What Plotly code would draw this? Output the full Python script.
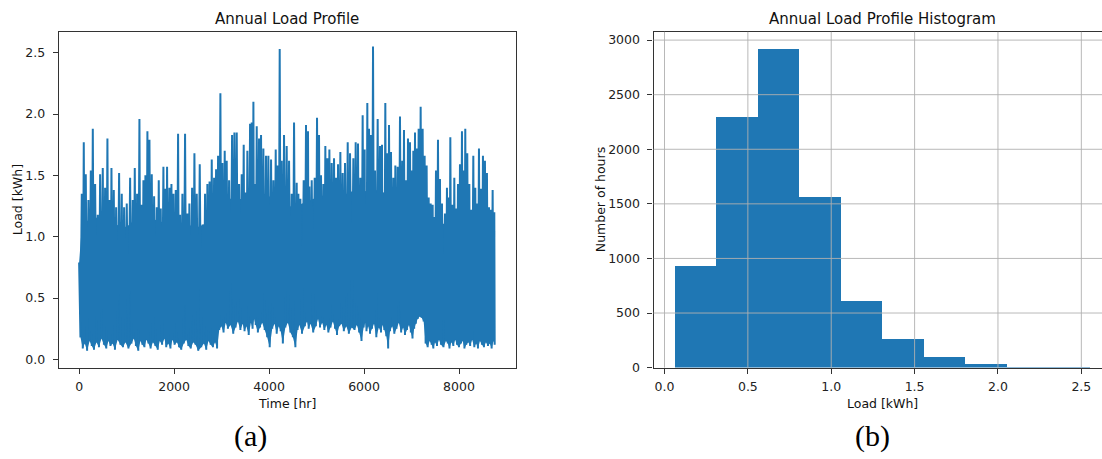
import plotly.graph_objects as go

# ---------------- data: annual load profile (envelope) ----------------
peak_hours = [
    0, 56, 98, 140, 196, 246, 288, 337, 393, 442, 498, 547, 596, 639, 681, 730, 779, 842, 898, 947,
    1003, 1074, 1130, 1172, 1221, 1270, 1312, 1354, 1396, 1438, 1481, 1530, 1579, 1635, 1677, 1719,
    1775, 1817, 1852, 1902, 1944, 1986, 2035, 2084, 2126, 2175, 2231, 2280, 2322, 2379, 2428, 2477,
    2540, 2603, 2652, 2701, 2747,
    2793, 2842, 2884, 2926, 2975, 3017, 3066, 3108, 3158, 3221, 3270, 3319, 3368, 3424, 3466, 3501,
    3543, 3600, 3635, 3670, 3698, 3740, 3789, 3831, 3880, 3936, 3985, 4042, 4091, 4140, 4182, 4224,
    4266, 4315, 4371, 4421, 4477, 4526, 4582, 4617, 4659, 4729, 4778, 4820, 4849, 4898, 4961, 5010,
    5052, 5094, 5143, 5185, 5227, 5270, 5319, 5368, 5410, 5452, 5501, 5550, 5599, 5656, 5705,
    5775, 5824, 5873, 5922, 5971, 6013, 6034, 6069, 6105, 6147, 6189, 6231, 6287, 6336, 6378, 6406,
    6448, 6490, 6526, 6568, 6617, 6659, 6708, 6757, 6806, 6841, 6883, 6925, 6968, 7003, 7038, 7073,
    7108, 7150, 7192, 7234, 7276, 7318, 7361, 7403, 7445, 7473, 7515, 7557, 7599, 7641, 7704, 7746,
    7782, 7817, 7859, 7901, 7936, 7978, 8020, 8062, 8097, 8132, 8174, 8217, 8252, 8301, 8343, 8378,
    8420, 8462, 8504, 8546, 8588, 8631, 8666, 8708, 8743,
]
peak_load = [
    0.79, 1.35, 1.77, 1.51, 1.30, 1.54, 1.88, 1.43, 1.18, 1.51, 1.56, 1.40, 1.80, 1.30, 1.56, 1.38,
    1.24, 1.52, 1.35, 1.24, 1.27, 1.48, 1.30, 1.56, 1.35, 1.96, 1.26, 1.46, 1.50, 1.86, 1.79, 1.51,
    1.33, 1.24, 1.46, 1.23, 1.57, 1.39, 1.57, 1.40, 1.43, 1.35, 1.38, 1.84, 1.18, 1.35, 1.84, 1.19,
    1.27, 1.40, 1.68, 1.35, 1.59, 1.10, 1.35, 1.43, 1.45,
    1.63, 1.48, 1.55, 1.66, 2.17, 1.60, 1.70, 1.62, 1.46, 1.83, 1.85, 1.85, 1.43, 1.51, 1.75, 1.36,
    1.70, 1.92, 1.93, 2.10, 1.43, 1.90, 1.80, 1.83, 1.72, 1.66, 1.66, 1.63, 1.46, 1.71, 1.58, 2.53,
    1.62, 1.83, 1.74, 1.62, 1.35, 1.93, 1.44, 1.35, 1.31, 1.46, 1.91, 1.86, 1.41, 1.46, 1.48, 1.97,
    1.83, 1.50, 1.43, 1.74, 1.64, 1.71, 1.60, 1.64, 1.48, 1.59, 1.69, 1.52, 1.60, 1.77, 1.68,
    1.64, 1.77, 1.76, 1.48, 1.99, 1.71, 1.27, 2.09, 1.88, 1.83, 2.55, 1.54, 1.96, 1.74, 1.75, 1.32,
    2.09, 1.68, 1.91, 1.69, 1.48, 1.58, 1.57, 1.98, 1.62, 1.87, 1.46, 1.80, 1.77, 1.54, 1.70, 1.85,
    1.72, 1.88, 2.06, 1.88, 1.66, 1.58, 1.32, 1.27, 1.26, 1.16, 1.54, 1.79, 1.47, 1.27, 1.19, 1.40,
    1.32, 1.81, 1.26, 1.48, 1.23, 1.43, 1.59, 1.86, 1.54, 1.88, 1.68, 1.43, 1.22, 1.66, 1.40, 1.27,
    1.72, 1.39, 1.66, 1.62, 1.52, 1.24, 1.22, 1.38, 1.20,
]
trough_load = [
    0.18, 0.09, 0.13, 0.07, 0.15, 0.11, 0.08, 0.14, 0.10, 0.17, 0.12, 0.09, 0.15, 0.11, 0.13, 0.08,
    0.16, 0.12, 0.10, 0.14, 0.09, 0.13, 0.17, 0.11, 0.07, 0.15, 0.12, 0.10, 0.16, 0.13, 0.09, 0.14,
    0.11, 0.08, 0.15, 0.12, 0.17, 0.10, 0.13, 0.09, 0.16, 0.12, 0.14, 0.10, 0.08, 0.13, 0.16, 0.11,
    0.09, 0.14, 0.12, 0.07, 0.10, 0.13, 0.08, 0.15, 0.12,
    0.10, 0.14, 0.09, 0.24, 0.27, 0.22, 0.30, 0.25, 0.28, 0.21, 0.26, 0.31, 0.24, 0.29, 0.23, 0.27,
    0.20, 0.30, 0.25, 0.33, 0.28, 0.22, 0.26, 0.30, 0.24, 0.18, 0.10, 0.25, 0.29, 0.21, 0.27, 0.23,
    0.13, 0.26, 0.30, 0.22, 0.18, 0.10, 0.24, 0.28, 0.21, 0.27, 0.31, 0.25, 0.29, 0.22, 0.27, 0.33,
    0.26, 0.30, 0.24, 0.28, 0.22, 0.26, 0.31, 0.25, 0.20, 0.27, 0.29, 0.23, 0.27, 0.21, 0.26,
    0.24, 0.28, 0.22, 0.15, 0.26, 0.30, 0.23, 0.27, 0.21, 0.25, 0.29, 0.18, 0.26, 0.22, 0.28, 0.24,
    0.19, 0.09, 0.23, 0.27, 0.21, 0.25, 0.30, 0.22, 0.26, 0.20, 0.24, 0.28, 0.22, 0.17, 0.25, 0.29,
    0.33, 0.35, 0.34, 0.31, 0.13, 0.10, 0.15, 0.12, 0.09, 0.14, 0.11, 0.16, 0.12, 0.10, 0.15, 0.13,
    0.09, 0.14, 0.11, 0.16, 0.12, 0.10, 0.13, 0.15, 0.09, 0.12, 0.14, 0.11, 0.16, 0.10, 0.13, 0.09,
    0.15, 0.12, 0.10, 0.14, 0.11, 0.13, 0.09, 0.15, 0.12,
]
last_hour = 8759

# level up to which the dense hourly band looks solid
body_hours = [0, 60, 250, 500, 750, 1000, 1250, 1500, 1750, 2000, 2250, 2500, 2750, 2930, 3000,
              3250, 3500, 3750, 4000, 4250, 4500, 4750, 5000, 5250, 5500, 5750, 6000, 6250, 6500,
              6750, 7000, 7250, 7300, 7500, 7750, 8000, 8250, 8500, 8759]
body_top = [0.79, 1.10, 1.15, 1.16, 1.10, 1.08, 1.17, 1.15, 1.12, 1.14, 1.10, 1.08, 1.12, 1.18, 1.28,
            1.32, 1.30, 1.38, 1.33, 1.28, 1.24, 1.28, 1.32, 1.35, 1.33, 1.37, 1.37, 1.38, 1.35,
            1.33, 1.37, 1.35, 1.18, 1.12, 1.10, 1.15, 1.12, 1.12, 1.05]

# ---------------- data: histogram ----------------
hist_edges = [0.058, 0.307, 0.556, 0.805, 1.054, 1.303, 1.552, 1.801, 2.050, 2.299, 2.548]
hist_counts = [930, 2300, 2920, 1562, 612, 264, 103, 33, 4, 2]

xa_ticks = [0, 2000, 4000, 6000, 8000]
ya_ticks = [0.0, 0.5, 1.0, 1.5, 2.0, 2.5]
xb_ticks = [0.0, 0.5, 1.0, 1.5, 2.0, 2.5]
yb_ticks = [0, 500, 1000, 1500, 2000, 2500, 3000]

titles = ["Annual Load Profile", "Annual Load Profile Histogram"]
xlabels = ["Time [hr]", "Load [kWh]"]
ylabels = ["Load [kWh]", "Number of hours"]
captions = ["(a)", "(b)"]

# ---------------- build ----------------
W, H = 1102, 459
BLUE = "#1f77b4"
SPINE = "#333333"
FONT = "DejaVu Sans"


def fx(px):
    return px / W


def fy(py):
    return 1 - py / H


hours, load = [], []
trough_hours = []
for i, (t, p) in enumerate(zip(peak_hours, peak_load)):
    nxt = peak_hours[i + 1] if i + 1 < len(peak_hours) else last_hour
    mid = (t + nxt) / 2
    trough_hours.append(mid)
    hours += [t, mid]
    load += [p, trough_load[i]]

centers = [(a + b) / 2 for a, b in zip(hist_edges[:-1], hist_edges[1:])]
widths = [b - a for a, b in zip(hist_edges[:-1], hist_edges[1:])]

fig = go.Figure()
# solid core of the dense hourly band
fig.add_trace(go.Scatter(x=[0] + trough_hours + body_hours[::-1],
                         y=[peak_load[0]] + trough_load + body_top[::-1],
                         mode="none", fill="toself", fillcolor=BLUE,
                         xaxis="x", yaxis="y", showlegend=False, hoverinfo="skip"))
# hourly peaks / troughs
fig.add_trace(go.Scatter(x=hours, y=load, mode="lines", line=dict(color=BLUE, width=2),
                         xaxis="x", yaxis="y", showlegend=False, hoverinfo="skip"))
fig.add_trace(go.Bar(x=centers, y=hist_counts, width=widths, marker=dict(color=BLUE, line=dict(width=0)),
                     xaxis="x2", yaxis="y2", showlegend=False))

ydom = [fy(373.3), fy(32.3)]
axis_common = dict(showline=True, linecolor=SPINE, linewidth=1.1, ticks="outside", ticklen=5,
                   tickwidth=1.1, tickcolor=SPINE, tickfont=dict(family=FONT, size=12.5, color="#222"),
                   zeroline=False)

fig.update_layout(
    width=W, height=H, margin=dict(l=0, r=0, t=0, b=0),
    paper_bgcolor="white", plot_bgcolor="white", bargap=0,
    xaxis=dict(domain=[fx(58.7), fx(516)], range=[-430, 9200], tickvals=xa_ticks,
               showgrid=False, mirror=True, anchor="y", ticklabelstandoff=2, **axis_common),
    yaxis=dict(domain=ydom, range=[-0.0665, 2.670], tickvals=ya_ticks, tickformat=".1f",
               showgrid=False, mirror=True, anchor="x", ticklabelstandoff=5, **axis_common),
    xaxis2=dict(domain=[fx(653.5), 1.0], range=[-0.066, 2.624], tickvals=xb_ticks, tickformat=".1f",
                showgrid=False, mirror=True, anchor="y2", ticklabelstandoff=2, **axis_common),
    yaxis2=dict(domain=ydom, range=[0, 3076], tickvals=yb_ticks,
                showgrid=False, mirror=False, anchor="x2", ticklabelstandoff=5, **axis_common),
)

# grid on top of the bars (as in the matplotlib original)
GRID = "#b0b0b0"
for v in xb_ticks:
    fig.add_shape(type="line", xref="x2", yref="y2 domain", x0=v, x1=v, y0=0, y1=1,
                  line=dict(color=GRID, width=0.9), layer="above")
for v in yb_ticks[1:]:
    fig.add_shape(type="line", xref="x2 domain", yref="y2", x0=0, x1=1, y0=v, y1=v,
                  line=dict(color=GRID, width=0.9), layer="above")

txt = dict(family=FONT, size=12.5, color="#111")
ann = []
ann.append(dict(text=titles[0], x=fx(287.3), y=fy(19.5), font=dict(family=FONT, size=15, color="#111")))
ann.append(dict(text=titles[1], x=fx(882.5), y=fy(19.5), font=dict(family=FONT, size=15, color="#111")))
ann.append(dict(text=xlabels[0], x=fx(287.3), y=fy(410), font=txt))
ann.append(dict(text=xlabels[1], x=fx(882.5), y=fy(410), font=txt))
ann.append(dict(text=ylabels[0], x=fx(17.5), y=fy(202.8), font=txt, textangle=-90))
ann.append(dict(text=ylabels[1], x=fx(600.5), y=fy(202.8), font=txt, textangle=-90))
ann.append(dict(text=captions[0], x=fx(250.5), y=fy(443), font=dict(family="Liberation Serif", size=30, color="#000")))
ann.append(dict(text=captions[1], x=fx(872), y=fy(443), font=dict(family="Liberation Serif", size=30, color="#000")))
for a in ann:
    a.update(xref="paper", yref="paper", xanchor="center", yanchor="middle", showarrow=False,
             borderpad=0)
fig.update_layout(annotations=ann)

fig.write_html("out.html")
